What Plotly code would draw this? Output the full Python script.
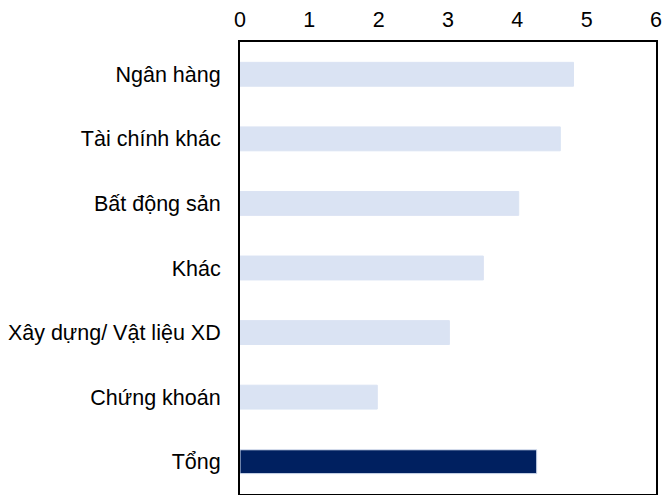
import plotly.graph_objects as go

categories = ["Ngân hàng", "Tài chính khác", "Bất động sản", "Khác",
              "Xây dựng/ Vật liệu XD", "Chứng khoán", "Tổng"]
values = [4.81, 4.62, 4.02, 3.51, 3.02, 1.98, 4.28]
x_ticks = [0, 1, 2, 3, 4, 5, 6]

LIGHT = "#DAE3F3"
DARK = "#002060"
colors = [DARK if c == "Tổng" else LIGHT for c in categories]

fig = go.Figure(go.Bar(
    x=values, y=categories, orientation="h",
    marker=dict(color=colors, line=dict(color=LIGHT, width=1)),
    width=0.37,
))

fig.update_layout(
    width=656, height=487,
    margin=dict(l=232, r=8, t=34, b=1),
    paper_bgcolor="white", plot_bgcolor="white",
    font=dict(family="Liberation Sans, Arial", size=21.5, color="black"),
    showlegend=False,
)
fig.update_xaxes(
    side="top", range=[0, 6], tickvals=x_ticks, ticktext=[str(t) for t in x_ticks],
    showgrid=False, zeroline=False, showline=True, mirror=True,
    linecolor="black", linewidth=2, ticks="", ticklabelstandoff=4,
    automargin=False,
)
fig.update_yaxes(
    categoryorder="array", categoryarray=categories, autorange="reversed",
    showgrid=False, zeroline=False, showline=True, mirror=True,
    linecolor="black", linewidth=2, ticks="", ticklabelstandoff=13,
    automargin=False,
)

fig.write_html("out.html")
